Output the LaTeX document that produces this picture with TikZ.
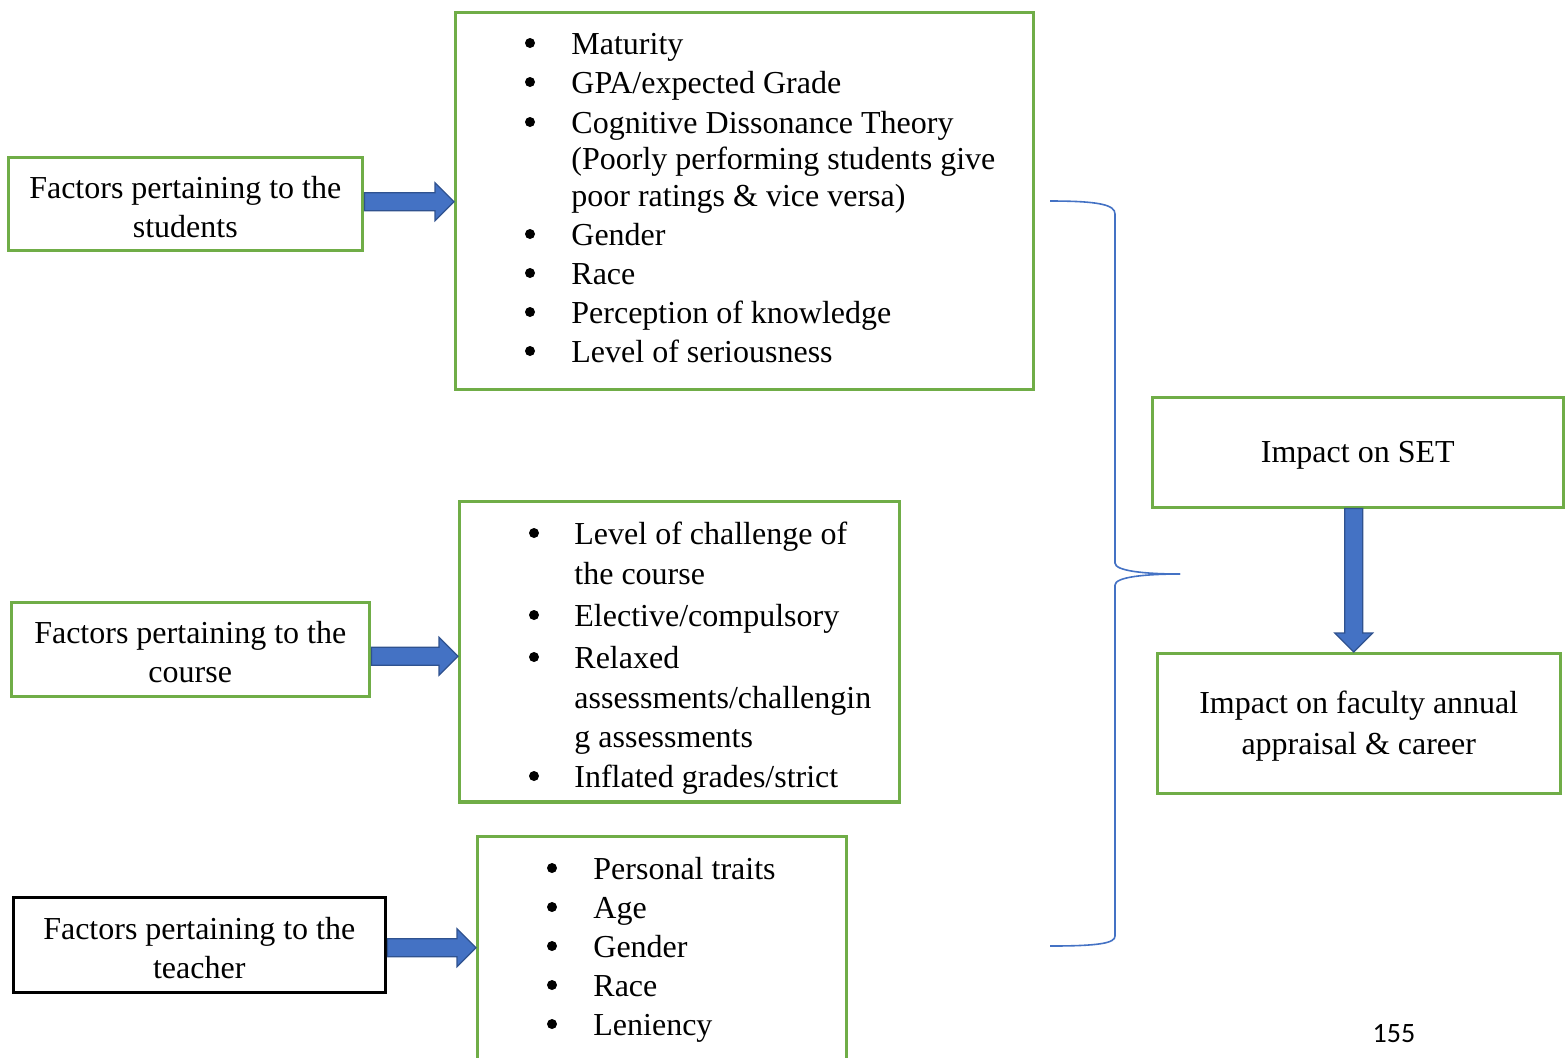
\documentclass[tikz,border=0pt]{standalone}
\usepackage{fontspec}
\setmainfont{Liberation Serif}
\newfontfamily\calfont{Carlito}
\usetikzlibrary{calc}
\definecolor{boxgreen}{HTML}{70AD47}
\definecolor{arrfill}{HTML}{4472C4}
\definecolor{arrdraw}{HTML}{2F528F}
\tikzset{
  gbox/.style={draw=boxgreen, line width=1.25pt, inner sep=0pt, fill=none},
  kbox/.style={draw=black, line width=1.25pt, inner sep=0pt},
  boxtxt/.style={font=\fontsize{16}{19.5}\selectfont, align=center},
  itm/.style={anchor=mid west, inner sep=0pt, font=\fontsize{16}{18}\selectfont},
  bul/.style={circle, fill=black, inner sep=0pt, minimum size=5pt},
  barrow/.style={fill=arrfill, draw=arrdraw, line width=0.6pt, line join=miter},
  bracestyle/.style={draw=arrfill, line width=0.8pt}
}
\newcommand\rarrow[2]{%
  \filldraw[barrow] ($(#1)+(1,-9)$) -- ($(#2)+(-19,-9)$) -- ($(#2)+(-19,-19)$) -- (#2)
    -- ($(#2)+(-19,19)$) -- ($(#2)+(-19,9)$) -- ($(#1)+(1,9)$) -- cycle;}
\begin{document}
\begin{tikzpicture}[x=0.5pt,y=-0.5pt]
\useasboundingbox (0,0) rectangle (1567,1057);

% boxes
\node[gbox, anchor=north west, minimum width=177pt, minimum height=46.5pt] (s1) at (7,156) {};
\node[boxtxt] (s1t) at ($(s1.center)+(0,3)$) {Factors pertaining to the\\students};
\node[gbox, anchor=north west, minimum width=289pt, minimum height=188.5pt] (b1) at (454,11) {};
\node[gbox, anchor=north west, minimum width=179pt, minimum height=47pt] (s2) at (10,601) {};
\node[boxtxt] (s2t) at ($(s2.center)+(0,3)$) {Factors pertaining to the\\course};
\node[gbox, anchor=north west, minimum width=220pt, minimum height=150pt] (b2) at (458,500) {};
\node[kbox, anchor=north west, minimum width=186pt, minimum height=47.5pt] (s3) at (12,896) {};
\node[boxtxt] (s3t) at ($(s3.center)+(0,3)$) {Factors pertaining to the\\teacher};
\node[gbox, anchor=north west, minimum width=184.5pt, minimum height=117.5pt] (b3) at (476,835) {};
\node[gbox, anchor=north west, minimum width=205.5pt, minimum height=55pt] (imp) at (1151,396) {};
\node[boxtxt] (impt) at ($(imp.center)+(0,3)$) {Impact on SET};
\node[gbox, anchor=north west, minimum width=201.5pt, minimum height=70pt] (fac) at (1156,652) {};
\node[boxtxt] (fact) at ($(fac.center)+(0,3)$) {Impact on faculty annual\\[1pt]appraisal \& career};

% list 1
\foreach \yy [count=\i] in {43,82,122,234,273,312,351}
  \node[bul] (b1d\i) at (530,\yy) {};
\node[itm] (t11) at (571,50) {Maturity};
\node[itm] (t12) at (571,89) {GPA/expected Grade};
\node[itm] (t13) at (571,129) {Cognitive Dissonance Theory};
\node[itm] (t14) at (571,165) {(Poorly performing students give};
\node[itm] (t15) at (571,202) {poor ratings \& vice versa)};
\node[itm] (t16) at (571,241) {Gender};
\node[itm] (t17) at (571,280) {Race};
\node[itm] (t18) at (571,319) {Perception of knowledge};
\node[itm] (t19) at (571,358) {Level of seriousness};

% list 2
\begin{scope}
\clip (b2.north west) rectangle (b2.south east);
\foreach \yy [count=\i] in {533,615,657,776}
  \node[bul] (b2d\i) at (534,\yy) {};
\node[itm] (t21) at (574,540) {Level of challenge of};
\node[itm] (t22) at (574,580) {the course};
\node[itm] (t23) at (574,622) {Elective/compulsory};
\node[itm] (t24) at (574,664) {Relaxed};
\node[itm] (t25) at (574,704) {assessments/challengin};
\node[itm] (t26) at (574,743) {g assessments};
\node[itm] (t27) at (574,783) {Inflated grades/strict};
\end{scope}
\draw[boxgreen, line width=1.25pt] (b2.south west) -- (b2.south east);

% list 3
\foreach \yy [count=\i] in {868,907,946,985,1024}
  \node[bul] (b3d\i) at (552,\yy) {};
\node[itm] (t31) at (593,875) {Personal traits};
\node[itm] (t32) at (593,914) {Age};
\node[itm] (t33) at (593,953) {Gender};
\node[itm] (t34) at (593,992) {Race};
\node[itm] (t35) at (593,1031) {Leniency};

% arrows
\coordinate (a1s) at ($(s1.east)+(0,-2)$);
\coordinate (a1e) at (b1.west |- a1s);
\rarrow{a1s}{a1e}
\coordinate (a2s) at ($(s2.east)+(0,7)$);
\coordinate (a2e) at (b2.west |- a2s);
\rarrow{a2s}{a2e}
\coordinate (a3s) at ($(s3.east)+(0,3)$);
\coordinate (a3e) at (b3.west |- a3s);
\rarrow{a3s}{a3e}

% down arrow
\coordinate (ds) at ($(imp.south)+(-4,0)$);
\coordinate (de) at (ds |- fac.north);
\filldraw[barrow] ($(ds)+(-9,0)$) -- ($(de)+(-9,-19)$) -- ($(de)+(-19,-19)$) -- (de)
   -- ($(de)+(19,-19)$) -- ($(de)+(9,-19)$) -- ($(ds)+(9,0)$) -- cycle;

% brace
\coordinate (brtop) at (1050,201);
\coordinate (brbot) at (1050,946);
\coordinate (brtip) at (1180,574);
\draw[bracestyle] (brtop) .. controls (1100,201) and (1115,205) .. (1115,214) -- (1115,563)
   .. controls (1115,571) and (1145,574) .. (brtip);
\draw[bracestyle] (brtip) .. controls (1145,574) and (1115,577) .. (1115,585) -- (1115,936)
   .. controls (1115,943) and (1100,946) .. (brbot);

% page number
\node[font=\calfont\fontsize{14}{16}\selectfont, inner sep=0pt] (pg) at (1394,1034) {155};
\end{tikzpicture}
\end{document}
